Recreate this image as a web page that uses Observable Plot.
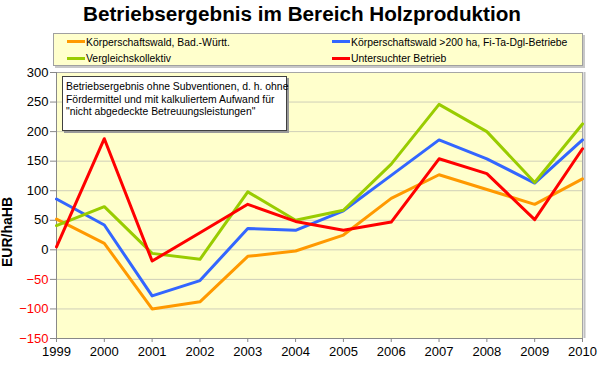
<!DOCTYPE html>
<html><head><meta charset="utf-8">
<script src="https://cdn.jsdelivr.net/npm/d3@7"></script>
<script src="https://cdn.jsdelivr.net/npm/@observablehq/plot@0.6"></script>
<style>
body{margin:0;background:#fff;font-family:Arial,"Liberation Sans",sans-serif;}
#wrap{position:relative;width:600px;height:369px;overflow:hidden;}
#chart{position:absolute;left:0;top:0;}
#title{position:absolute;left:0;width:604px;top:3px;text-align:center;font-weight:bold;font-size:20.7px;line-height:21px;white-space:nowrap;}
#legend{position:absolute;left:53px;top:33px;width:528px;height:31px;background:#FFFFCC;border:1px solid #A0A0A0;box-shadow:2px 2px 0 #C8C8C8;}
.li{position:absolute;font-size:10.4px;line-height:12px;white-space:nowrap;height:12px;}
.li span.sw{display:inline-block;width:18px;height:3px;vertical-align:middle;margin-right:1px;position:relative;top:-1px;}
#note{position:absolute;left:62px;top:76px;width:217px;height:45px;background:#fff;border:1px solid #404040;box-shadow:2px 2px 0 #999;padding:4px 3px;font-size:10.4px;line-height:12.5px;white-space:nowrap;}
#ylab{position:absolute;left:7px;top:232px;transform:translate(-50%,-50%) rotate(-90deg);font-weight:bold;font-size:14px;white-space:nowrap;}
</style>
</head><body>
<div id="wrap">
<div id="chart"></div>
<div id="title"></div>
<div id="legend"></div>
<div id="note"></div>
<div id="ylab"></div>
</div>
<script>
const titleText = "Betriebsergebnis im Bereich Holzproduktion";
const yLabel = "EUR/haHB";
const noteLines = ["Betriebsergebnis ohne Subventionen, d. h. ohne", "Fördermittel und mit kalkuliertem Aufwand für", "\"nicht abgedeckte Betreuungsleistungen\""];
const years = [1999, 2000, 2001, 2002, 2003, 2004, 2005, 2006, 2007, 2008, 2009, 2010];
const seriesNames = ["Körperschaftswald, Bad.-Württ.", "Körperschaftswald >200 ha, Fi-Ta-Dgl-Betriebe", "Vergleichskollektiv", "Untersuchter Betrieb"];
const seriesColors = ["#FF9900", "#3366FF", "#99CC00", "#FF0000"];
const kwBW = [52, 11, -100, -88, -11, -2, 25, 87, 127, 102, 77, 120];
const kw200 = [86, 42, -78, -52, 36, 33, 66, 126, 186, 154, 113, 186];
const vergleich = [41, 73, -6, -16, 98, 50, 67, 145, 246, 200, 114, 213];
const untersucht = [5, 188, -19, 29, 77, 48, 33, 47, 154, 129, 51, 171];
const yTicks = [-150, -100, -50, 0, 50, 100, 150, 200, 250, 300];

const allSeries = [kwBW, kw200, vergleich, untersucht];
const data = [];
allSeries.forEach((s, i) => s.forEach((v, j) => data.push({series: seriesNames[i], year: years[j], value: v})));

document.getElementById("title").textContent = titleText;
document.getElementById("ylab").textContent = yLabel;
document.getElementById("note").innerHTML = noteLines.map(l => l.replace(/&/g,"&amp;").replace(/</g,"&lt;")).join("<br>");

const leg = document.getElementById("legend");
const legPos = [[13, 2.7], [278, 2.7], [13, 19], [278, 19]];
seriesNames.forEach((n, i) => {
  const d = document.createElement("div");
  d.className = "li";
  d.style.left = legPos[i][0] + "px";
  d.style.top = legPos[i][1] + "px";
  const sw = document.createElement("span");
  sw.className = "sw";
  sw.style.background = seriesColors[i];
  d.appendChild(sw);
  d.appendChild(document.createTextNode(n));
  leg.appendChild(d);
});

const chart = Plot.plot({
  width: 600, height: 369,
  marginLeft: 56, marginRight: 18, marginTop: 72, marginBottom: 31,
  style: {background: "transparent", fontFamily: "Arial, 'Liberation Sans', sans-serif", fontSize: "13px", color: "black"},
  x: {domain: [1999, 2010]},
  y: {domain: [-150, 300]},
  color: {domain: seriesNames, range: seriesColors},
  marks: [
    Plot.frame({fill: "#FFFFCC", stroke: "#A6A6A6"}),
    Plot.ruleX([2010], {stroke: "#C0C0C0", strokeWidth: 2, dx: 2}),
    Plot.gridY(yTicks.filter(d => d > -150 && d < 300), {stroke: "#CFCFB8", strokeOpacity: 1}),
    Plot.ruleY([-150], {stroke: "#888"}),
    Plot.ruleX([1999], {stroke: "#888"}),
    Plot.axisX(years, {tickFormat: d => String(d), tickSize: 4, tickPadding: 4, stroke: "#888", fill: "black", fontSize: 13, label: null}),
    Plot.axisY(yTicks.filter(d => d >= 0), {tickSize: 6, tickPadding: 2, stroke: "#888", fill: "black", fontSize: 13, label: null}),
    Plot.axisY(yTicks.filter(d => d < 0), {tickSize: 6, tickPadding: 2, stroke: "#888", fill: "#FF0000", fontSize: 13, label: null}),
    Plot.line(data, {x: "year", y: "value", z: "series", stroke: "series", strokeWidth: 3})
  ]
});
document.getElementById("chart").appendChild(chart);
</script>
</body></html>
